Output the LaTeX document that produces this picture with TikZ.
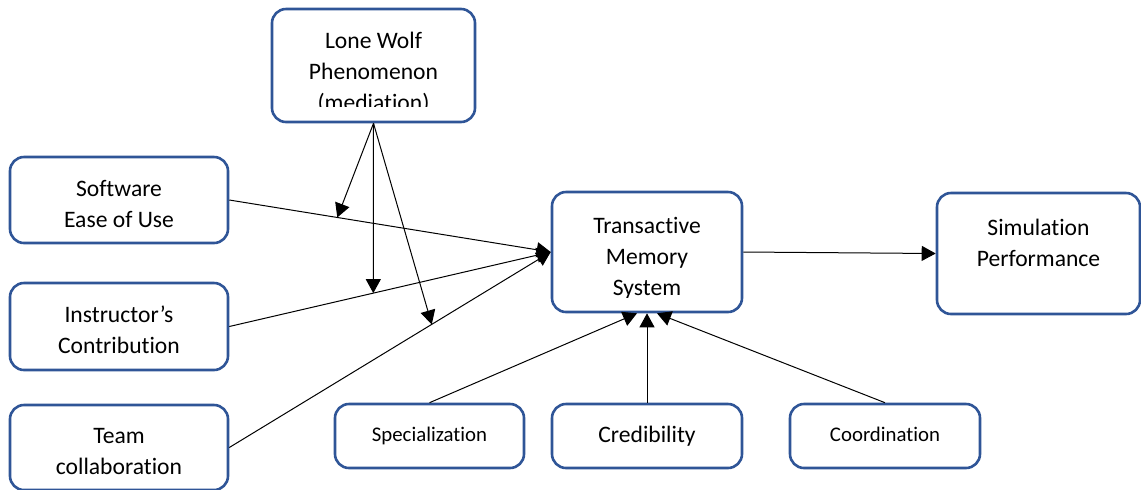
\documentclass[tikz,border=0pt]{standalone}
\usepackage{fontspec}
\setmainfont{Carlito}[Ligatures={NoCommon,NoContextual,NoRare}]
\usetikzlibrary{arrows.meta}

\definecolor{boxblue}{HTML}{2F5597}

\begin{document}
\begin{tikzpicture}[
  x=0.5pt, y=-0.5pt,
  box/.style={draw=boxblue, line width=1.3pt, rounded corners=7pt, align=center,
    inner sep=0pt, font=\fontsize{11.8}{15.5}\selectfont},
  txt/.style={align=center, inner sep=0pt, font=\fontsize{11.8}{15.5}\selectfont},
  small/.style={font=\fontsize{10.4}{12}\selectfont},
  edge/.style={-{Triangle[length=7pt,width=7.5pt]}, line width=0.5pt}
]
\useasboundingbox (0,0) rectangle (1141,489);

% moderator
\node[box, minimum width=101.5pt, minimum height=56.5pt] (lw) at (373.5,65.5) {};
\begin{scope}
  \clip (272,12) rectangle (475,106);
  \node[txt] (lwtext) at (373.5,73) {Lone Wolf\\Phenomenon\\(mediat\kern0pt ion)};
\end{scope}

% inputs
\node[box, minimum width=109pt, minimum height=43pt,
  label={[txt, yshift=-2pt]center:{Software\\Ease of Use}}] (sw) at (119,200) {};
\node[box, minimum width=109pt, minimum height=43.5pt,
  label={[txt, yshift=-1.75pt]center:{Instructor’s\\Contribut\kern0pt ion}}] (ic) at (119,326.5) {};
\node[box, minimum width=109pt, minimum height=42.5pt,
  label={[txt, yshift=-2pt]center:{Team\\collaborat\kern0pt ion}}] (tc) at (119,447.5) {};

% transactive memory system
\node[box, minimum width=95pt, minimum height=60pt] (tms) at (647,252) {};
\begin{scope}
  \clip (552,195) rectangle (742,297);
  \node[txt] (tmstext) at (647,258.5) {Transactive\\Memory\\System};
\end{scope}

\node[box, minimum width=101.5pt, minimum height=60.5pt,
  label={[txt, yshift=5.5pt]center:{Simulat\kern0pt ion\\Performance}}] (sim) at (1038.5,253.5) {};

% dimensions
\node[box, small, minimum width=94.5pt, minimum height=32pt] (spec) at (429.5,436) {\raisebox{1.5pt}{Specializat\kern0pt ion}};
\node[box, minimum width=95pt, minimum height=32pt] (cred) at (647,436) {Credibility};
\node[box, small, minimum width=95pt, minimum height=32pt] (coord) at (885,436) {\raisebox{1.5pt}{Coordinat\kern0pt ion}};

\draw[edge] (sw.east) -- (tms.west);
\draw[edge] (ic.east) -- (tms.west);
\draw[edge] (tc.east) -- (tms.west);
\draw[edge] (tms.east) -- (sim.west);

\draw[edge] (spec.north) -- ([xshift=-5pt]tms.south);
\draw[edge] (cred.north) -- (tms.south);
\draw[edge] (coord.north) -- ([xshift=5pt]tms.south);

% points on the paths for the moderation arrows
\path (sw.east) -- (tms.west) coordinate[pos=0.336] (m1);
\path (ic.east) -- (tms.west) coordinate[pos=0.448] (m2);
\path (tc.east) -- (tms.west) coordinate[pos=0.63] (m3);

\draw[edge] (lw.south) -- (m1);
\draw[edge] (lw.south) -- (m2);
\draw[edge] (lw.south) -- (m3);
\end{tikzpicture}
\end{document}
